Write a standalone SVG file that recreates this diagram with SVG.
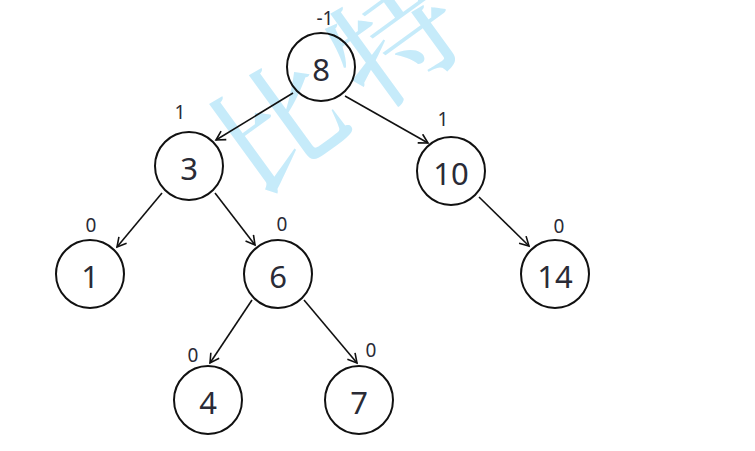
<svg xmlns="http://www.w3.org/2000/svg" width="755" height="451" viewBox="0 0 755 451">
<defs>
<marker id="ah" markerWidth="12" markerHeight="12" refX="10" refY="6" orient="auto" markerUnits="userSpaceOnUse">
<path d="M1,1 L10,6 L1,11" fill="none" stroke="#111" stroke-width="1.6"/>
</marker>
<style>
.n circle{fill:none;stroke:#111;stroke-width:2}
.n text{font-family:"Noto Sans","DejaVu Sans",sans-serif;font-size:31px;fill:#2a2b36;text-anchor:middle;dominant-baseline:central}
.b{font-family:"Noto Sans","DejaVu Sans",sans-serif;font-size:19px;fill:#2a2b36;text-anchor:middle;dominant-baseline:central}
.e line{stroke:#111;stroke-width:1.6;marker-end:url(#ah)}
.wm{font-family:"Noto Serif CJK SC","Noto Sans CJK SC",serif;font-size:125px;font-weight:500;fill:#c6ebfa;text-anchor:middle;dominant-baseline:central;letter-spacing:20px}
</style>
</defs>
<rect width="755" height="451" fill="#fff"/>
<text class="wm" x="340" y="70" transform="rotate(-36 340 70)">比特</text>
<g id="edges" class="e">
<line x1="293" y1="93" x2="216" y2="140"/>
<line x1="345" y1="96" x2="428" y2="143"/>
<line x1="162" y1="193" x2="117" y2="247"/>
<line x1="215" y1="193" x2="255" y2="245"/>
<line x1="252" y1="300" x2="210" y2="363"/>
<line x1="304" y1="300" x2="357" y2="363"/>
<line x1="479" y1="197" x2="529" y2="246"/>
</g>
<g id="n8" class="n"><circle cx="321" cy="67" r="34"/><text x="321" y="69">8</text></g>
<g id="n3" class="n"><circle cx="189" cy="166" r="34"/><text x="189" y="168">3</text></g>
<g id="n10" class="n"><circle cx="451" cy="171" r="34"/><text x="451" y="173">10</text></g>
<g id="n1" class="n"><circle cx="90" cy="274" r="34"/><text x="90" y="276">1</text></g>
<g id="n6" class="n"><circle cx="278" cy="274" r="34"/><text x="278" y="276">6</text></g>
<g id="n14" class="n"><circle cx="555" cy="274" r="34"/><text x="555" y="276">14</text></g>
<g id="n4" class="n"><circle cx="208" cy="400" r="34"/><text x="208" y="402">4</text></g>
<g id="n7" class="n"><circle cx="359" cy="400" r="34"/><text x="359" y="402">7</text></g>
<g id="balance">
<text class="b" x="325" y="18">-1</text>
<text class="b" x="180" y="112">1</text>
<text class="b" x="443" y="119">1</text>
<text class="b" x="91" y="225">0</text>
<text class="b" x="282" y="224">0</text>
<text class="b" x="559" y="226">0</text>
<text class="b" x="193" y="355">0</text>
<text class="b" x="371" y="350">0</text>
</g>
</svg>
